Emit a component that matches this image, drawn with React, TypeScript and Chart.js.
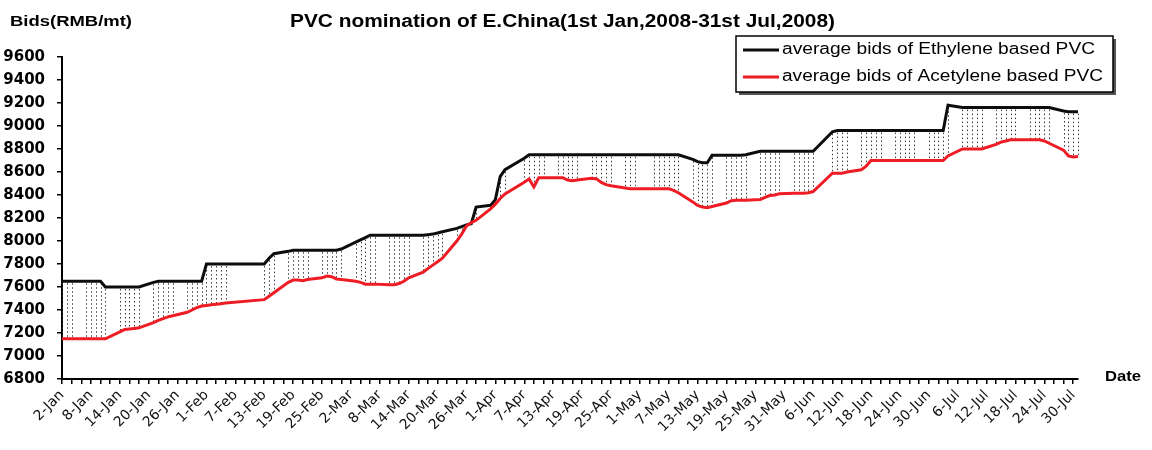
import { useEffect, useRef } from 'react';
import { Chart, registerables } from 'chart.js';

Chart.register(...registerables);

// Day index 0 = 2-Jan-2008 ... 211 = 31-Jul-2008 ; null = no quote (weekend / holiday)
const _ = null;

const tickLabels = [
  '2-Jan', '8-Jan', '14-Jan', '20-Jan', '26-Jan', '1-Feb', '7-Feb', '13-Feb', '19-Feb', '25-Feb',
  '2-Mar', '8-Mar', '14-Mar', '20-Mar', '26-Mar', '1-Apr', '7-Apr', '13-Apr', '19-Apr', '25-Apr',
  '1-May', '7-May', '13-May', '19-May', '25-May', '31-May', '6-Jun', '12-Jun', '18-Jun', '24-Jun',
  '30-Jun', '6-Jul', '12-Jul', '18-Jul', '24-Jul', '30-Jul',
];

const yTicks = [6800, 7000, 7200, 7400, 7600, 7800, 8000, 8200, 8400, 8600, 8800, 9000, 9200, 9400, 9600];

const ethylene: (number | null)[] = [
  7650, 7650, 7650, _, _,
  7650, 7650, 7650, 7650, 7600, _, _,
  7600, 7600, 7600, 7600, 7600, _, _,
  7640, 7650, 7650, 7650, 7650, _, _,
  7650, 7650, 7650, 7650, 7800, 7800, 7800,
  7800, 7800, _, _, _, _, _,
  _, _, 7800, 7850, 7890, _, _,
  7910, 7920, 7920, 7920, 7920, _, _,
  7920, 7920, 7920, 7920, 7930, _, _,
  7990, 8010, 8030, 8050, 8050, _, _,
  8050, 8050, 8050, 8050, 8050, _, _,
  8050, 8055, 8060, 8070, 8080, _, _,
  8110, 8125, 8140, 8150, 8295, _, _,
  8310, 8360, 8560, 8620, _, _, _,
  8720, 8750, 8750, 8750, 8750, _, _,
  8750, 8750, 8750, 8750, 8750, _, _,
  8750, 8750, 8750, 8750, 8750, _, _,
  8750, 8750, 8750, _, _, _, 8750,
  8750, 8750, 8750, 8750, 8750, _, _,
  8710, 8690, 8680, 8680, 8745, _, _,
  8745, 8745, 8745, 8745, 8750, _, _,
  8780, 8780, 8780, 8780, 8780, _, _,
  8780, 8780, 8780, 8780, 8780, _, _,
  _, 8950, 8960, 8960, 8960, _, _,
  8960, 8960, 8960, 8960, 8960, _, _,
  8960, 8960, 8960, 8960, 8960, _, _,
  8960, 8960, 8960, 8960, 9180, _, _,
  9160, 9160, 9160, 9160, 9160, _, _,
  9160, 9160, 9160, 9160, 9160, _, _,
  9160, 9160, 9160, 9160, 9160, _, _,
  9130, 9125, 9125, 9125,
];

const acetylene: (number | null)[] = [
  7150, 7150, 7150, _, _,
  7150, 7150, 7150, 7150, 7150, _, _,
  7210, 7230, 7235, 7240, 7245, _, _,
  7290, 7310, 7325, 7340, 7350, _, _,
  7380, 7400, 7420, 7435, 7440, 7445, 7450,
  7455, 7460, _, _, _, _, _,
  _, _, 7490, 7520, 7550, _, _,
  7640, 7660, 7660, 7655, 7665, _, _,
  7680, 7695, 7690, 7670, 7665, _, _,
  7650, 7640, 7625, 7625, 7625, _, _,
  7620, 7620, 7630, 7650, 7680, _, _,
  7730, 7760, 7790, 7820, 7850, _, _,
  8000, 8060, 8130, 8160, 8180, _, _,
  8280, 8320, 8370, 8410, _, _, _,
  8510, 8540, 8470, 8550, 8550, _, _,
  8550, 8550, 8530, 8525, 8530, _, _,
  8545, 8540, 8510, 8490, 8480, _, _,
  8460, 8455, 8455, _, _, _, 8455,
  8455, 8455, 8455, 8440, 8420, _, _,
  8340, 8310, 8295, 8290, 8300, _, _,
  8330, 8350, 8355, 8355, 8355, _, _,
  8360, 8380, 8395, 8400, 8410, _, _,
  8415, 8415, 8415, 8420, 8430, _, _,
  _, 8590, 8590, 8590, 8600, _, _,
  8620, 8650, 8700, 8700, 8700, _, _,
  8700, 8700, 8700, 8700, 8700, _, _,
  8700, 8700, 8700, 8700, 8740, _, _,
  8800, 8800, 8800, 8800, 8800, _, _,
  8840, 8860, 8870, 8880, 8880, _, _,
  8880, 8880, 8880, 8870, 8850, _, _,
  8790, 8740, 8730, 8735,
];

const seriesNames = ['average bids of Ethylene based PVC', 'average bids of Acetylene based PVC'];
const seriesColors = ['#0d0d0d', '#ee1c24'];
const chartTitle = 'PVC nomination of E.China(1st Jan,2008-31st Jul,2008)';
const yTitle = 'Bids(RMB/mt)';
const xTitle = 'Date';

const toPoints = (arr: (number | null)[]) =>
  arr.map((v, i) => (v == null ? null : { x: i, y: v })).filter((p) => p !== null) as { x: number; y: number }[];

function fitText(ctx: CanvasRenderingContext2D, text: string, x: number, y: number, w: number, font: string, color: string) {
  ctx.save();
  ctx.font = font;
  const m = ctx.measureText(text).width;
  ctx.translate(x, y);
  ctx.scale(w / m, 1);
  ctx.fillStyle = color;
  ctx.textBaseline = 'middle';
  ctx.textAlign = 'left';
  ctx.fillText(text, 0, 0);
  ctx.restore();
}

const dropLines = {
  id: 'dropLines',
  beforeDatasetsDraw(chart: any) {
    const { ctx, scales } = chart;
    const x = scales.x;
    const y = scales.y;
    ctx.save();
    ctx.strokeStyle = '#3a3a3a';
    ctx.lineWidth = 1;
    ctx.setLineDash([1.5, 2.5]);
    for (let i = 0; i < ethylene.length; i++) {
      const e = ethylene[i];
      const a = acetylene[i];
      if (e == null || a == null || e <= a) continue;
      const px = Math.round(x.getPixelForValue(i)) + 0.5;
      ctx.beginPath();
      ctx.moveTo(px, y.getPixelForValue(e) + 2);
      ctx.lineTo(px, y.getPixelForValue(a) - 1);
      ctx.stroke();
    }
    ctx.restore();
  },
};

const decorations = {
  id: 'decorations',
  afterDraw(chart: any) {
    const { ctx, chartArea } = chart;
    const sans = '"Liberation Sans", Arial, sans-serif';
    // titles
    fitText(ctx, chartTitle, 290, 22, 545, `bold 18px ${sans}`, '#000');
    fitText(ctx, yTitle, 10, 22, 122, `bold 15px ${sans}`, '#000');
    fitText(ctx, xTitle, 1105, chartArea.bottom - 2, 36, `bold 15px ${sans}`, '#000');
    // legend
    const lx = 736, ly = 36, lw = 377, lh = 56;
    ctx.save();
    ctx.fillStyle = '#555';
    ctx.fillRect(lx + 3, ly + 3, lw, lh);
    ctx.fillStyle = '#fff';
    ctx.fillRect(lx, ly, lw, lh);
    ctx.strokeStyle = '#000';
    ctx.lineWidth = 1.5;
    ctx.strokeRect(lx, ly, lw, lh);
    const rows = [ly + 14, ly + 41];
    const widths = [313, 321];
    for (let k = 0; k < 2; k++) {
      ctx.strokeStyle = seriesColors[k];
      ctx.lineWidth = 3;
      ctx.beginPath();
      ctx.moveTo(lx + 7, rows[k]);
      ctx.lineTo(lx + 43, rows[k]);
      ctx.stroke();
      fitText(ctx, seriesNames[k], lx + 46, rows[k], widths[k], `16px ${sans}`, '#000');
    }
    ctx.restore();
  },
};

export default function App() {
  const ref = useRef<HTMLCanvasElement | null>(null);

  useEffect(() => {
    if (!ref.current) return;
    const tickFont = { family: '"DejaVu Sans", sans-serif' };
    const chart = new Chart(ref.current, {
      type: 'line',
      data: {
        datasets: [
          {
            label: seriesNames[0],
            data: toPoints(ethylene),
            borderColor: seriesColors[0],
            backgroundColor: seriesColors[0],
            borderWidth: 3,
            pointRadius: 0,
            tension: 0,
            order: 1,
          },
          {
            label: seriesNames[1],
            data: toPoints(acetylene),
            borderColor: seriesColors[1],
            backgroundColor: seriesColors[1],
            borderWidth: 3,
            pointRadius: 0,
            tension: 0,
            order: 0,
          },
        ],
      },
      options: {
        animation: false,
        responsive: true,
        maintainAspectRatio: false,
        layout: { padding: { top: 57, right: 74, left: 0, bottom: 0 } },
        plugins: {
          legend: { display: false },
          title: { display: false },
          tooltip: { enabled: false },
        },
        scales: {
          x: {
            type: 'linear',
            min: 0,
            max: ethylene.length - 1,
            afterFit: (s: any) => {
              s.height = 71;
            },
            border: { display: true, color: '#000', width: 2 },
            grid: { drawOnChartArea: false, drawTicks: true, tickLength: 5, color: '#000', lineWidth: 1.5 },
            ticks: {
              stepSize: 2,
              includeBounds: false,
              autoSkip: false,
              maxTicksLimit: 500,
              minRotation: 45,
              maxRotation: 45,
              padding: 3,
              color: '#111',
              font: { ...tickFont, size: 14 },
              callback: (v: any) => {
                const n = Number(v);
                return n % 6 === 0 ? tickLabels[n / 6] ?? '' : '';
              },
            },
          },
          y: {
            type: 'linear',
            min: yTicks[0],
            max: yTicks[yTicks.length - 1],
            afterFit: (s: any) => {
              s.width = 62;
            },
            border: { display: true, color: '#000', width: 2 },
            grid: { drawOnChartArea: false, drawTicks: true, tickLength: 5, color: '#000', lineWidth: 1.5 },
            ticks: {
              stepSize: 200,
              padding: 12,
              color: '#000',
              font: { ...tickFont, size: 15, weight: 'bold' },
              callback: (v: any) => String(v),
            },
          },
        },
      },
      plugins: [dropLines, decorations],
    } as any);
    return () => chart.destroy();
  }, []);

  return (
    <div style={{ position: 'fixed', left: 0, top: 0, width: 1152, height: 450, background: '#fff' }}>
      <canvas ref={ref} />
    </div>
  );
}
